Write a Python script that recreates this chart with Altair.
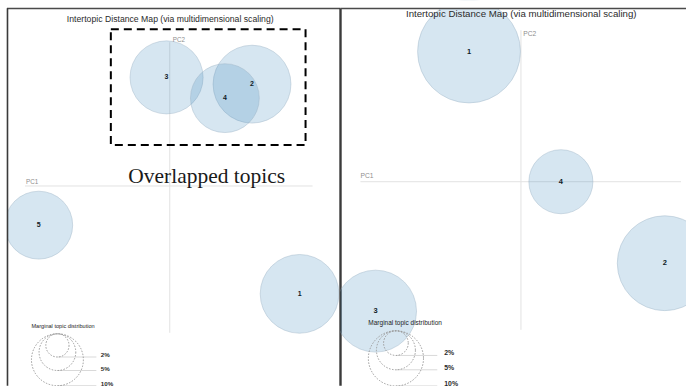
import math

import altair as alt
import pandas as pd

# ---- model A: five topics (PC coordinates and marginal share in %) ----
a_topics = ["1", "2", "3", "4", "5"]
a_pc1 = [0.1625, 0.103, -0.004, 0.069, -0.164]
a_pc2 = [-0.135, 0.1275, 0.136, 0.110, -0.049]
a_marginal = [23.0, 22.5, 19.8, 17.6, 17.1]

# ---- model B: four topics ----
b_topics = ["1", "2", "3", "4"]
b_pc1 = [-0.065, 0.180, -0.182, 0.050]
b_pc2 = [0.163, -0.102, -0.162, 0.000]
b_marginal = [34.8, 29.6, 22.1, 13.5]

# circle-size guide
guide_pcts = [2, 5, 10]
guide_labels = ["2%", "5%", "10%"]

TITLE = "Intertopic Distance Map (via multidimensional scaling)"
NOTE = "Overlapped topics"
SANS = "Liberation Sans"


def one(text):
    return pd.DataFrame({"t": [text]})


def mask(x, x2, y, y2):
    return alt.Chart(one("")).mark_rect(fill="white", strokeWidth=0).encode(
        x=alt.value(x), x2=alt.value(x2), y=alt.value(y), y2=alt.value(y2))


def rule(color, width, **pos):
    return alt.Chart(one("")).mark_rule(color=color, strokeWidth=width).encode(
        **{k: alt.value(v) for k, v in pos.items()})


def panel(topics, pc1, pc2, marginal, *, width, height, origin, px_per_unit,
          radius_k, title_xy, title_size, label_size, pc_size, pc1_xy, pc2_xy,
          vline, hline, guide_xy, guide_title_size, guide_label_size,
          guide_gap, frame_top, frame_left, frame_right):
    ox, oy = origin
    xs = alt.Scale(domain=[-ox / px_per_unit, (width - ox) / px_per_unit],
                   nice=False, zero=False)
    ys = alt.Scale(domain=[-(height - oy) / px_per_unit, oy / px_per_unit],
                   nice=False, zero=False)
    # symbol size is the squared diameter: r = radius_k * sqrt(percent)
    ss = alt.Scale(type="linear", domain=[0, 100],
                   range=[0, 4 * radius_k * radius_k * 100])

    df = pd.DataFrame({"topic": topics, "PC1": pc1, "PC2": pc2,
                       "marginal": marginal})
    X = alt.X("PC1:Q", scale=xs, axis=None)
    Y = alt.Y("PC2:Q", scale=ys, axis=None)

    zero = pd.DataFrame({"v": [0.0]})
    axis_v = alt.Chart(zero).mark_rule(color="#e2e2e2", strokeWidth=1).encode(
        x=alt.X("v:Q", scale=xs, axis=None),
        y=alt.value(vline[0]), y2=alt.value(vline[1]))
    axis_h = alt.Chart(zero).mark_rule(color="#e2e2e2", strokeWidth=1).encode(
        y=alt.Y("v:Q", scale=ys, axis=None),
        x=alt.value(hline[0]), x2=alt.value(hline[1]))

    circles = alt.Chart(df).mark_circle(
        color="#1f77b4", fillOpacity=0.185, stroke="#9fb6c8",
        strokeOpacity=0.45, strokeWidth=1, opacity=1, clip=True
    ).encode(x=X, y=Y, size=alt.Size("marginal:Q", scale=ss, legend=None))

    labels = alt.Chart(df).mark_text(
        font=SANS, fontWeight="bold", fontSize=label_size, color="#0f1a26",
        align="center", baseline="middle"
    ).encode(x=X, y=Y, text="topic:N")

    pc_text = dict(font=SANS, fontSize=pc_size, color="#8e8e8e",
                   align="left", baseline="middle")
    pc1_lab = alt.Chart(one("PC1")).mark_text(**pc_text).encode(
        x=alt.value(pc1_xy[0]), y=alt.value(pc1_xy[1]), text="t:N")
    pc2_lab = alt.Chart(one("PC2")).mark_text(**pc_text).encode(
        x=alt.value(pc2_xy[0]), y=alt.value(pc2_xy[1]), text="t:N")

    title = alt.Chart(one(TITLE)).mark_text(
        font=SANS, fontSize=title_size, color="#2b2b2b",
        align="center", baseline="alphabetic"
    ).encode(x=alt.value(title_xy[0]), y=alt.value(title_xy[1]), text="t:N")

    # guide: dotted circles sharing a common top edge
    cx, top = guide_xy
    r_large = radius_k * math.sqrt(10)
    cx2 = cx + 1.5 * r_large
    gdf = pd.DataFrame({"pct": guide_pcts, "label": guide_labels})
    gbase = alt.Chart(gdf).transform_calculate(
        r=f"{radius_k} * sqrt(datum.pct)"
    ).transform_calculate(
        cy=f"{top} + datum.r", ly=f"{top} + 2 * datum.r"
    )
    g_circles = gbase.mark_point(
        shape="circle", filled=False, stroke="#9a9a9a", strokeWidth=1,
        strokeDash=[1.5, 1.5], opacity=1
    ).encode(x=alt.value(cx), y=alt.Y("cy:Q", scale=None),
             size=alt.Size("pct:Q", scale=ss, legend=None))
    g_lines = gbase.mark_rule(color="gray", opacity=0.3, strokeWidth=1).encode(
        x=alt.value(cx), x2=alt.value(cx2), y=alt.Y("ly:Q", scale=None))
    g_text = gbase.mark_text(
        font=SANS, fontSize=guide_label_size, color="#2a2a2a",
        fontWeight="bold", align="left", baseline="alphabetic"
    ).encode(x=alt.value(cx2 + guide_gap), y=alt.Y("ly:Q", scale=None),
             text="label:N")
    g_title = alt.Chart(one("Marginal topic distribution")).mark_text(
        font=SANS, fontSize=guide_title_size, color="#1c1c1c",
        align="left", baseline="middle"
    ).encode(x=alt.value(cx - r_large), y=alt.value(top - 8), text="t:N")

    layers = [axis_v, axis_h, circles, labels, g_circles, g_lines, g_text,
              g_title, pc1_lab, pc2_lab]
    # white margin outside the frame, then the frame itself
    layers.append(mask(0, width, 0, frame_top))
    if frame_left is not None:
        layers.append(mask(0, frame_left, 0, height))
    layers.append(rule("#4a4a4a", 1.6, x=frame_left if frame_left else 0,
                       x2=width, y=frame_top + 0.2))
    if frame_left is not None:
        layers.append(rule("#3a3a3a", 1.6, x=frame_left + 0.5,
                           y=frame_top, y2=height))
    if frame_right is not None:
        layers.append(rule("#3a3a3a", 2.4, x=frame_right, y=frame_top, y2=height))
    layers.append(title)
    return alt.layer(*layers).properties(width=width, height=height)


left = panel(
    a_topics, a_pc1, a_pc2, a_marginal,
    width=341, height=386, origin=(170, 186), px_per_unit=800,
    radius_k=8.22, title_xy=(170.5, 21.3), title_size=8.7, label_size=7,
    pc_size=6.3, pc1_xy=(26, 181.5), pc2_xy=(173, 40),
    vline=(42, 333), hline=(25, 313), guide_xy=(57.5, 334),
    guide_title_size=5.6, guide_label_size=6.2, guide_gap=4.5,
    frame_top=8, frame_left=7, frame_right=341,
)

# dashed call-out box around the overlapping topics, with its caption
box = alt.Chart(one("")).mark_rect(
    fill="transparent", stroke="black", strokeWidth=2, strokeDash=[8, 5]
).encode(x=alt.value(111), x2=alt.value(306), y=alt.value(29), y2=alt.value(145))
note = alt.Chart(one(NOTE)).mark_text(
    font="Liberation Serif", fontSize=21.5, color="#1a1a1a",
    align="center", baseline="alphabetic"
).encode(x=alt.value(207), y=alt.value(183), text="t:N")
left = alt.layer(left, box, note)

right = panel(
    b_topics, b_pc1, b_pc2, b_marginal,
    width=346, height=386, origin=(180.7, 181.7), px_per_unit=800,
    radius_k=8.73, title_xy=(181, 16.7), title_size=9.7, label_size=7.5,
    pc_size=6.7, pc1_xy=(20, 176), pc2_xy=(183, 34),
    vline=(30, 330), hline=(20, 341), guide_xy=(55.5, 331),
    guide_title_size=6.5, guide_label_size=6.9, guide_gap=7,
    frame_top=8, frame_left=None, frame_right=None,
)

chart = alt.hconcat(left, right, spacing=0, bounds="flush").resolve_scale(
    x="independent", y="independent", size="independent"
).configure_view(strokeWidth=0).properties(
    padding=0,
    background="white",
)

chart.save("out.html", embed_options={"renderer": "svg", "actions": False})
